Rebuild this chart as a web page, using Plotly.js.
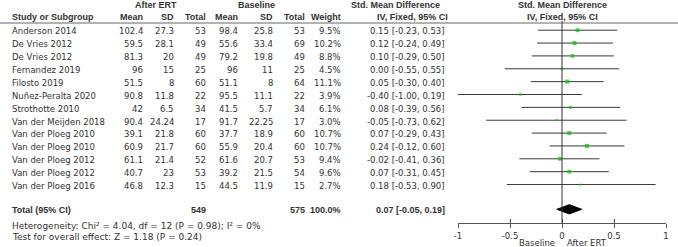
<!DOCTYPE html>
<html><head><meta charset="utf-8">
<script src="https://cdn.plot.ly/plotly-3.0.1.min.js"></script>
<style>html,body{margin:0;padding:0;background:#fff}</style>
</head><body><div id="c" style="width:678px;height:247px"></div>
<script>
const studies = ["Anderson 2014","De Vries 2012","De Vries 2012","Fernandez 2019","Filosto 2019","Nuñez-Peralta 2020","Strothotte 2010","Van der Meijden 2018","Van der Ploeg 2010","Van der Ploeg 2010","Van der Ploeg 2012","Van der Ploeg 2012","Van der Ploeg 2016"];
const ertMean = [102.4,59.5,81.3,96,51.5,90.8,42,90.4,39.1,60.9,61.1,40.7,46.8];
const ertSD = [27.3,28.1,20,15,8,11.8,6.5,24.24,21.8,21.7,21.4,23,12.3];
const ertN = [53,49,49,25,60,22,34,17,60,60,52,53,15];
const baseMean = [98.4,55.6,79.2,96,51.1,95.5,41.5,91.7,37.7,55.9,61.6,39.2,44.5];
const baseSD = [25.8,33.4,19.8,11,8,11.1,5.7,22.25,18.9,20.4,20.7,21.5,11.9];
const baseN = [53,69,49,25,64,22,34,17,60,60,53,54,15];
const weight = [9.5,10.2,8.8,4.5,11.1,3.9,6.1,3.0,10.7,10.7,9.4,9.6,2.7];
const smd = [0.15,0.12,0.10,0.00,0.05,-0.40,0.08,-0.05,0.07,0.24,-0.02,0.07,0.18];
const ciLow = [-0.23,-0.24,-0.29,-0.55,-0.30,-1.00,-0.39,-0.73,-0.29,-0.12,-0.41,-0.31,-0.53];
const ciHigh = [0.53,0.49,0.50,0.55,0.40,0.19,0.56,0.62,0.43,0.60,0.36,0.45,0.90];
const totalErtN = 549, totalBaseN = 575, totalWeight = 100.0;
const pooled = 0.07, pooledLow = -0.05, pooledHigh = 0.19;
const tickVals = [-1,-0.5,0,0.5,1];
const tickText = ["-1","-0.5","0","0.5","1"];
const heterogeneity = "Heterogeneity: Chi² = 4.04, df = 12 (P = 0.98); I² = 0%";
const overall = "Test for overall effect: Z = 1.18 (P = 0.24)";

const W = 678, H = 247;
const ROW0 = 30.2, STEP = 12.86;
const v = px => (px - ROW0) / STEP;
const REG = "DejaVu Sans", BOLD = "Liberation Sans";
const TXT = "#333";
const rows = studies.map((_, i) => i);
const totalRow = v(209.3);
const axisV = v(223.3);

const anns = [];
function ann(text, px, vy, anchor, bold, size) {
  anns.push({text: bold ? "<b>" + text + "</b>" : text, xref: "paper", yref: "y", x: px / W, y: vy,
    xanchor: anchor, yanchor: "middle", showarrow: false,
    font: {family: bold ? BOLD : REG, size: size || (bold ? 9 : 8.5), color: TXT}});
}
const fmtCI = (m, l, h) => m.toFixed(2) + " [" + l.toFixed(2) + ", " + h.toFixed(2) + "]";

// headers
const h1 = v(5), h2 = v(17.2);
ann("After ERT", 156, h1, "center", true);
ann("Baseline", 256, h1, "center", true);
ann("Std. Mean Difference", 349, h1, "left", true);
ann("Std. Mean Difference", 562, h1, "center", true);
ann("Study or Subgroup", 10, h2, "left", true);
ann("Mean", 145, h2, "right", true);
ann("SD", 176, h2, "right", true);
ann("Total", 208, h2, "right", true);
ann("Mean", 240, h2, "right", true);
ann("SD", 275, h2, "right", true);
ann("Total", 307, h2, "right", true);
ann("Weight", 343, h2, "right", true);
ann("IV, Fixed, 95% CI", 375, h2, "left", true);
ann("IV, Fixed, 95% CI", 562, h2, "center", true);

rows.forEach(i => {
  const y = i + 0.1;
  ann(studies[i], 10, y, "left");
  ann(String(ertMean[i]), 145, y, "right");
  ann(String(ertSD[i]), 176, y, "right");
  ann(String(ertN[i]), 208, y, "right");
  ann(String(baseMean[i]), 240, y, "right");
  ann(String(baseSD[i]), 275, y, "right");
  ann(String(baseN[i]), 307, y, "right");
  ann(weight[i].toFixed(1) + "%", 343, y, "right");
  ann(fmtCI(smd[i], ciLow[i], ciHigh[i]), 447, y, "right");
});
ann("Total (95% CI)", 10, totalRow + 0.05, "left", true);
ann(String(totalErtN), 208, totalRow + 0.05, "right", true);
ann(String(totalBaseN), 307, totalRow + 0.05, "right", true);
ann(totalWeight.toFixed(1) + "%", 343, totalRow + 0.05, "right", true);
ann(fmtCI(pooled, pooledLow, pooledHigh), 447, totalRow + 0.05, "right", true);
ann(heterogeneity, 10, v(226), "left", false, 9);
ann(overall, 10, v(237.3), "left", false, 9);
ann("Baseline", 557, v(242.7), "right");
ann("After ERT", 565, v(242.7), "left");

// traces
const ciX = [], ciY = [];
rows.forEach(i => { ciX.push(ciLow[i], ciHigh[i], null); ciY.push(i, i, null); });
const traces = [
  {type: "scatter", mode: "lines", x: ciX, y: ciY, line: {color: "#3a3a3a", width: 1}, hoverinfo: "skip", cliponaxis: false},
  {type: "scatter", mode: "markers", x: smd, y: rows,
   marker: {symbol: "square", color: "#00c800", size: weight.map(w => 1.25 * Math.sqrt(w)), line: {width: 0}}, hoverinfo: "skip"},
  {type: "scatter", mode: "lines", fill: "toself", fillcolor: "#000",
   x: [pooledLow, pooled, pooledHigh, pooled, pooledLow],
   y: [totalRow, totalRow - 0.36, totalRow, totalRow + 0.36, totalRow],
   line: {color: "#000", width: 1}, hoverinfo: "skip"},
  {type: "scatter", mode: "markers", x: [null], y: [null], xaxis: "x2", yaxis: "y", hoverinfo: "skip"}
];

const xdom = [458 / W, 666 / W];
const axPos = 1 - 223.3 / H;
const layout = {
  width: W, height: H, margin: {l: 0, r: 0, t: 0, b: 0},
  paper_bgcolor: "#fff", plot_bgcolor: "rgba(0,0,0,0)", showlegend: false,
  xaxis: {domain: xdom, range: [-1, 1], anchor: "free", position: axPos, showline: true, linecolor: "#555", linewidth: 1,
    ticks: "outside", ticklen: 4, tickcolor: "#555", tickwidth: 1, tickvals: tickVals, ticktext: tickText,
    tickfont: {family: REG, size: 8.5, color: TXT}, showgrid: false, zeroline: false, fixedrange: true},
  xaxis2: {domain: xdom, range: [-1, 1], overlaying: "x", anchor: "free", position: axPos, showline: false,
    ticks: "inside", ticklen: 4, tickcolor: "#555", tickwidth: 1, tickvals: tickVals, showticklabels: false,
    showgrid: false, zeroline: false, fixedrange: true},
  yaxis: {domain: [0, 1], range: [v(247), v(0)], visible: false, fixedrange: true},
  shapes: [
    {type: "line", xref: "paper", yref: "y", x0: 0, x1: 1, y0: v(23), y1: v(23), line: {color: "#666", width: 1}},
    {type: "line", xref: "x", yref: "y", x0: 0, x1: 0, y0: v(21), y1: axisV, line: {color: "#333", width: 1}}
  ],
  annotations: anns
};
Plotly.newPlot("c", traces, layout, {staticPlot: true, displayModeBar: false});
</script></body></html>
